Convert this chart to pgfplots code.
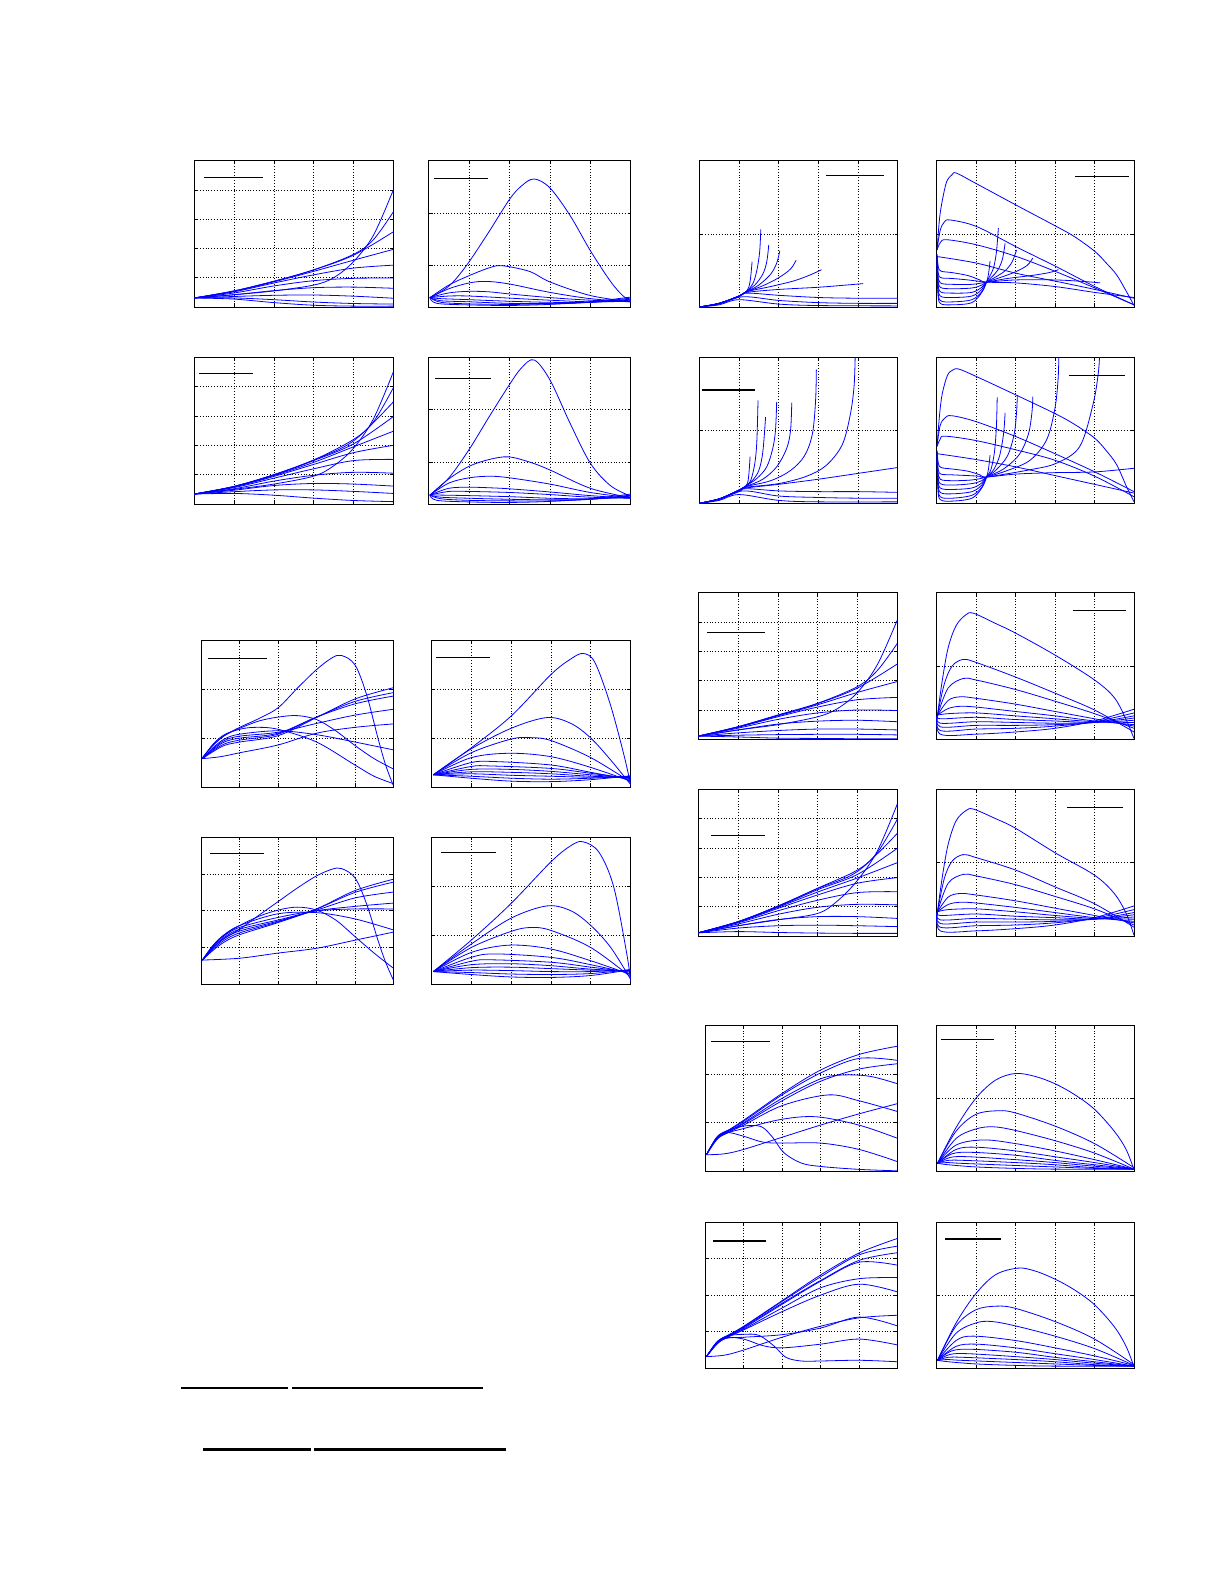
\documentclass[border=0pt]{standalone}
\usepackage{pgfplots}
\pgfplotsset{compat=1.18}
\tikzset{cv/.style={blue, line width=0.4pt, smooth, tension=0.55, mark=none}}
\newcommand\C[1]{\addplot[cv] coordinates {#1};}
\pgfplotsset{
 pan/.style={scale only axis, anchor=north west, xmin=0, xmax=5, xtick={1,2,3,4},
  xticklabels={}, yticklabels={}, grid=major,
  major grid style={black, line width=0.35pt, dash pattern=on 0.4pt off 1pt},
  axis line style={black, line width=0.5pt}, major tick length=1.5pt, minor tick length=1pt,
  tick style={black, line width=0.35pt}, tick align=inside},
 y5/.style={ymin=0, ymax=5, ytick={1,2,3,4}},
 y3/.style={ymin=0, ymax=3, ytick={1,2}},
 y4/.style={ymin=0, ymax=4, ytick={1,2,3}},
 y2/.style={ymin=0, ymax=2, ytick={1}, minor y tick num=4},
 yb/.style={ymin=0.2, ymax=3, ytick={1,2}},
}
\begin{document}
\begin{tikzpicture}
\path[use as bounding box] (0,0) rectangle (612.5pt,-792.5pt);

% ---------- A ----------
\begin{axis}[pan, y5, at={(97.15pt,-80.35pt)}, width=99.5pt, height=73.15pt]
\C{(0,0.31)(1,0.42)(2,0.55)(3,0.75)(3.5,1.0)(4,1.55)(4.5,2.45)(5,4.0)}
\C{(0,0.31)(1,0.55)(2,0.88)(3,1.27)(4,1.8)(4.5,2.3)(5,3.25)}
\C{(0,0.31)(1,0.55)(2,0.88)(3,1.27)(4,1.77)(5,2.57)}
\C{(0,0.31)(1,0.54)(2,0.86)(3,1.22)(4,1.6)(5,1.97)}
\C{(0,0.31)(1,0.52)(2,0.82)(3,1.1)(4,1.33)(5,1.43)}
\C{(0,0.31)(1,0.48)(2,0.72)(3,0.9)(4,0.98)(5,0.99)}
\C{(0,0.31)(1,0.42)(2,0.56)(3,0.66)(4,0.68)(5,0.64)}
\C{(0,0.31)(1,0.36)(2,0.4)(3,0.41)(4,0.37)(5,0.30)}
\C{(0,0.31)(1,0.31)(2,0.25)(3,0.17)(4,0.12)(5,0.10)}
\C{(0,0.31)(1,0.27)(2,0.15)(3,0.06)(4,0.03)(5,0.03)}
\end{axis}
% ---------- B ----------
\begin{axis}[pan, yb, at={(214.35pt,-80.35pt)}, width=101pt, height=73.15pt]
\C{(0.03,0.38)(0.5,0.6)(0.94,1.0)(1.5,1.65)(2,2.26)(2.3,2.52)(2.61,2.65)(3,2.48)(3.5,1.95)(4,1.28)(4.5,0.69)(4.8,0.42)(5,0.32)}
\C{(0.03,0.38)(0.5,0.62)(1,0.8)(1.5,0.95)(1.82,0.99)(2.5,0.88)(3,0.68)(4,0.42)(5,0.3)}
\C{(0.03,0.38)(0.5,0.55)(1,0.66)(1.42,0.69)(2,0.64)(3,0.48)(4,0.36)(5,0.3)}
\C{(0.03,0.38)(0.5,0.47)(1,0.5)(1.5,0.49)(2,0.45)(3,0.38)(4,0.33)(5,0.3)}
\C{(0.03,0.38)(0.5,0.41)(1,0.41)(2,0.37)(3,0.33)(4,0.3)(5,0.31)}
\C{(0.03,0.38)(0.3,0.36)(1,0.34)(2,0.31)(3,0.29)(4,0.29)(5,0.33)}
\C{(0.03,0.38)(0.3,0.32)(1,0.3)(2,0.27)(3,0.27)(4,0.29)(5,0.35)}
\C{(0.03,0.38)(0.3,0.29)(1,0.26)(2,0.25)(3,0.26)(4,0.29)(5,0.37)}
\C{(0.03,0.38)(0.2,0.27)(1,0.24)(2,0.23)(3,0.25)(4,0.3)(5,0.39)}
\end{axis}
% ---------- C ----------
\begin{axis}[pan, y5, at={(97.15pt,-178.65pt)}, width=99.5pt, height=73.35pt]
\C{(0,0.34)(1,0.5)(2,0.68)(3,0.95)(3.5,1.3)(4,1.9)(4.5,2.9)(5,4.5)}
\C{(0,0.34)(1,0.6)(2,1.0)(3,1.5)(4,2.2)(4.5,2.8)(5,3.96)}
\C{(0,0.34)(1,0.6)(2,1.0)(3,1.5)(4,2.15)(5,3.48)}
\C{(0,0.34)(1,0.6)(2,0.99)(3,1.48)(4,2.05)(5,2.98)}
\C{(0,0.34)(1,0.59)(2,0.97)(3,1.42)(4,1.95)(5,2.48)}
\C{(0,0.34)(1,0.58)(2,0.94)(3,1.35)(4,1.75)(5,2.0)}
\C{(0,0.34)(1,0.56)(2,0.88)(3,1.2)(4,1.48)(5,1.52)}
\C{(0,0.34)(1,0.52)(2,0.78)(3,0.98)(4,1.08)(5,1.05)}
\C{(0,0.34)(1,0.47)(2,0.63)(3,0.7)(4,0.68)(5,0.61)}
\C{(0,0.34)(1,0.42)(2,0.48)(3,0.48)(4,0.43)(5,0.36)}
\C{(0,0.34)(1,0.36)(2,0.3)(3,0.2)(4,0.12)(5,0.08)}
\end{axis}
% ---------- D ----------
\begin{axis}[pan, yb, at={(214.35pt,-178.65pt)}, width=101pt, height=73.35pt]
\C{(0.03,0.37)(0.5,0.7)(1,1.24)(1.5,1.87)(2,2.48)(2.3,2.8)(2.61,2.95)(3,2.57)(3.5,1.74)(4,0.98)(4.5,0.55)(5,0.35)}
\C{(0.03,0.37)(0.5,0.68)(1,0.92)(1.5,1.05)(1.97,1.1)(2.5,1.0)(3,0.85)(4,0.5)(5,0.32)}
\C{(0.03,0.37)(0.5,0.6)(1,0.7)(1.52,0.73)(2,0.7)(3,0.58)(4,0.42)(5,0.32)}
\C{(0.03,0.37)(0.5,0.5)(1,0.52)(1.5,0.51)(2,0.49)(3,0.43)(4,0.36)(5,0.31)}
\C{(0.03,0.37)(0.5,0.44)(1,0.44)(2,0.42)(3,0.38)(4,0.33)(5,0.31)}
\C{(0.03,0.37)(0.3,0.37)(1,0.36)(2,0.34)(3,0.31)(4,0.3)(5,0.33)}
\C{(0.03,0.37)(0.3,0.33)(1,0.31)(2,0.29)(3,0.28)(4,0.29)(5,0.35)}
\C{(0.03,0.37)(0.3,0.3)(1,0.27)(2,0.26)(3,0.26)(4,0.29)(5,0.37)}
\C{(0.03,0.37)(0.2,0.27)(1,0.24)(2,0.23)(3,0.25)(4,0.3)(5,0.39)}
\end{axis}
% ---------- E ----------
\begin{axis}[pan, y2, at={(349.65pt,-80.35pt)}, width=99.2pt, height=73.15pt]
\C{(0,0)(0.5,0.05)(1,0.15)(1.2,0.22)(1.28,0.35)(1.33,0.62)}
\C{(0,0)(0.5,0.05)(1,0.15)(1.2,0.22)(1.35,0.32)(1.45,0.5)(1.52,0.75)(1.55,1.06)}
\C{(0,0)(0.5,0.05)(1,0.15)(1.2,0.22)(1.4,0.3)(1.6,0.45)(1.7,0.62)(1.75,0.85)}
\C{(0,0)(0.5,0.05)(1,0.15)(1.2,0.21)(1.5,0.3)(1.8,0.45)(1.95,0.6)(2.03,0.77)}
\C{(0,0)(0.5,0.05)(1,0.15)(1.2,0.21)(1.6,0.29)(2,0.4)(2.3,0.52)(2.44,0.64)}
\C{(0,0)(0.5,0.05)(1,0.15)(1.2,0.21)(1.8,0.28)(2.4,0.36)(2.8,0.44)(3.08,0.51)}
\C{(0,0)(0.5,0.05)(1,0.15)(1.2,0.2)(2,0.24)(3,0.27)(3.7,0.3)(4.13,0.32)}
\C{(0,0)(0.5,0.05)(1,0.14)(1.2,0.19)(2,0.16)(3,0.13)(4,0.12)(5,0.12)}
\C{(0,0)(0.5,0.04)(1.1,0.14)(2,0.09)(3,0.06)(4,0.05)(5,0.05)}
\C{(0,0)(0.5,0.03)(1,0.1)(2,0.04)(3,0.02)(5,0.015)}
\end{axis}
% ---------- F ----------
\begin{axis}[pan, y2, at={(468.15pt,-80.35pt)}, width=98.85pt, height=73.15pt]
\C{(0.02,0.78)(0.08,1.2)(0.15,1.45)(0.26,1.71)(0.4,1.81)(0.51,1.83)(1,1.69)(2.03,1.39)(3.04,1.1)(3.5,0.96)(4.01,0.76)(4.3,0.6)(4.56,0.44)(4.81,0.21)(5,0.02)}
\C{(0.02,0.8)(0.1,1.05)(0.2,1.16)(0.35,1.19)(1.02,1.1)(2.03,0.82)(3.04,0.55)(4.01,0.28)(5,0.03)}
\C{(0.02,0.78)(0.1,0.88)(0.26,0.92)(1.02,0.85)(2.03,0.69)(3.04,0.48)(4.01,0.26)(5,0.03)}
\C{(0.02,0.69)(1.02,0.6)(2.03,0.46)(3.04,0.35)(4.01,0.24)(5,0.12)}
\C{(0.02,0.72)(0.05,0.55)(0.12,0.49)(0.4,0.47)(0.8,0.43)(1.1,0.37)(1.27,0.34)(2,0.33)(3,0.28)(4,0.2)(5,0.13)}
\C{(0.02,0.7)(0.05,0.46)(0.12,0.4)(0.4,0.39)(0.8,0.37)(1.1,0.35)(1.27,0.34)(2,0.37)(3,0.37)(3.7,0.35)(4.14,0.33)}
\C{(0.02,0.68)(0.04,0.45)(0.1,0.33)(0.4,0.31)(0.9,0.31)(1.27,0.34)(1.8,0.39)(2.4,0.43)(2.85,0.47)(3.09,0.51)}
\C{(0.02,0.66)(0.04,0.4)(0.1,0.27)(0.4,0.25)(0.9,0.26)(1.15,0.3)(1.27,0.34)(1.6,0.4)(2,0.48)(2.3,0.57)(2.44,0.67)}
\C{(0.02,0.64)(0.04,0.35)(0.1,0.21)(0.4,0.19)(0.9,0.2)(1.15,0.27)(1.27,0.34)(1.5,0.41)(1.75,0.5)(1.92,0.62)(2.03,0.78)}
\C{(0.02,0.62)(0.04,0.3)(0.1,0.15)(0.4,0.13)(0.9,0.15)(1.15,0.24)(1.27,0.34)(1.4,0.41)(1.55,0.5)(1.67,0.65)(1.74,0.87)}
\C{(0.02,0.6)(0.04,0.25)(0.1,0.09)(0.4,0.07)(0.9,0.1)(1.15,0.21)(1.27,0.34)(1.35,0.42)(1.45,0.54)(1.52,0.75)(1.57,1.08)}
\C{(0.02,0.58)(0.04,0.2)(0.1,0.05)(0.4,0.03)(0.9,0.06)(1.15,0.2)(1.27,0.34)(1.32,0.45)(1.36,0.63)}
\end{axis}
% ---------- E2 ----------
\begin{axis}[pan, y2, at={(349.65pt,-178.65pt)}, width=99.2pt, height=73pt]
\C{(0,0)(0.5,0.06)(1,0.18)(1.18,0.24)(1.24,0.35)(1.28,0.64)}
\C{(0,0)(0.5,0.06)(1,0.18)(1.18,0.24)(1.3,0.32)(1.4,0.55)(1.45,0.85)(1.48,1.41)}
\C{(0,0)(0.5,0.06)(1,0.18)(1.18,0.24)(1.35,0.32)(1.5,0.45)(1.6,0.7)(1.67,1.18)}
\C{(0,0)(0.5,0.06)(1,0.18)(1.18,0.24)(1.45,0.34)(1.7,0.5)(1.85,0.75)(1.92,1.0)(1.95,1.39)}
\C{(0,0)(0.5,0.06)(1,0.18)(1.18,0.23)(1.6,0.33)(1.95,0.5)(2.2,0.75)(2.3,1.0)(2.33,1.38)}
\C{(0,0)(0.5,0.06)(1,0.18)(1.18,0.23)(1.8,0.31)(2.3,0.45)(2.65,0.65)(2.85,0.95)(2.93,1.4)(2.95,1.83)}
\C{(0,0)(0.5,0.06)(1,0.18)(1.18,0.22)(2,0.27)(2.7,0.37)(3.2,0.52)(3.6,0.8)(3.8,1.2)(3.9,1.6)(3.93,2.05)}
\C{(0,0)(0.5,0.06)(1,0.17)(1.18,0.21)(2,0.26)(3,0.33)(4,0.41)(5,0.49)}
\C{(0,0)(0.5,0.06)(1,0.16)(1.18,0.2)(2,0.17)(3,0.16)(4,0.16)(5,0.15)}
\C{(0,0)(0.5,0.05)(1.1,0.17)(2,0.1)(3,0.08)(4,0.07)(5,0.07)}
\C{(0,0)(0.5,0.04)(1,0.12)(2,0.04)(3,0.02)(5,0.02)}
\end{axis}
% ---------- F2 ----------
\begin{axis}[pan, y2, at={(468.15pt,-178.65pt)}, width=98.85pt, height=73pt]
\C{(0.02,0.78)(0.08,1.2)(0.15,1.5)(0.28,1.75)(0.4,1.82)(0.56,1.84)(1,1.74)(2.03,1.48)(3.0,1.23)(3.5,1.08)(4.01,0.89)(4.3,0.72)(4.56,0.53)(4.81,0.23)(5,0.02)}
\C{(0.02,0.8)(0.1,1.07)(0.22,1.17)(0.39,1.2)(1,1.12)(2.03,0.91)(3,0.68)(4.01,0.43)(5,0.16)}
\C{(0.02,0.78)(0.1,0.88)(0.22,0.92)(1,0.86)(2.03,0.73)(3,0.59)(4.01,0.37)(5,0.09)}
\C{(0.02,0.68)(1,0.6)(2,0.5)(3,0.38)(4,0.26)(5,0.14)}
\C{(0.02,0.72)(0.05,0.55)(0.12,0.49)(0.4,0.47)(0.8,0.44)(1.1,0.39)(1.27,0.36)(2,0.4)(3,0.42)(4,0.43)(5,0.48)}
\C{(0.02,0.7)(0.05,0.46)(0.12,0.4)(0.4,0.39)(0.8,0.38)(1.1,0.37)(1.27,0.36)(2.37,0.46)(3.04,0.55)(3.63,0.78)(3.97,1.37)(4.1,1.8)(4.13,2.05)}
\C{(0.02,0.68)(0.04,0.45)(0.1,0.33)(0.4,0.31)(0.9,0.32)(1.27,0.36)(1.8,0.45)(2.37,0.59)(2.79,0.87)(3.0,1.3)(3.08,1.7)(3.1,2.05)}
\C{(0.02,0.66)(0.04,0.4)(0.1,0.27)(0.4,0.25)(0.9,0.27)(1.15,0.31)(1.27,0.36)(1.7,0.47)(2.1,0.67)(2.33,0.95)(2.42,1.25)(2.44,1.46)}
\C{(0.02,0.64)(0.04,0.35)(0.1,0.21)(0.4,0.19)(0.9,0.21)(1.15,0.28)(1.27,0.36)(1.5,0.45)(1.8,0.65)(1.97,0.95)(2.03,1.25)(2.05,1.48)}
\C{(0.02,0.62)(0.04,0.3)(0.1,0.15)(0.4,0.13)(0.9,0.16)(1.15,0.25)(1.27,0.36)(1.45,0.46)(1.6,0.65)(1.7,0.95)(1.74,1.24)}
\C{(0.02,0.6)(0.04,0.25)(0.1,0.09)(0.4,0.07)(0.9,0.11)(1.15,0.22)(1.27,0.36)(1.38,0.46)(1.47,0.7)(1.52,1.05)(1.54,1.45)}
\C{(0.02,0.58)(0.04,0.2)(0.1,0.05)(0.4,0.03)(0.9,0.07)(1.15,0.21)(1.27,0.36)(1.32,0.47)(1.36,0.66)}
\end{axis}
% ---------- G ----------
\begin{axis}[pan, y3, at={(100.65pt,-320.15pt)}, width=96pt, height=73.35pt]
\C{(0.03,0.6)(0.3,0.85)(0.6,1.05)(1,1.22)(1.5,1.4)(2,1.62)(2.5,2.02)(3,2.4)(3.4,2.64)(3.65,2.69)(4,2.5)(4.3,1.9)(4.6,1.0)(4.8,0.45)(5,0.03)}
\C{(0.03,0.59)(0.3,0.85)(0.6,1.05)(1,1.2)(1.5,1.35)(2,1.43)(2.5,1.46)(3,1.38)(3.5,1.15)(4,0.85)(4.5,0.58)(5,0.37)}
\C{(0.03,0.59)(0.3,0.87)(0.6,1.07)(1,1.18)(1.4,1.22)(2,1.18)(3,0.92)(4,0.45)(4.5,0.22)(5,0.07)}
\C{(0.03,0.58)(0.3,0.8)(0.6,0.98)(1,1.08)(2,1.15)(3,1.07)(4,0.92)(5,0.76)}
\C{(0.03,0.58)(0.3,0.78)(0.6,0.95)(1,1.04)(2,1.12)(3,1.3)(4,1.47)(5,1.59)}
\C{(0.03,0.58)(0.3,0.76)(0.6,0.92)(1,1.0)(2,1.1)(3,1.43)(4,1.7)(5,1.86)}
\C{(0.03,0.58)(0.3,0.74)(0.6,0.88)(1,0.96)(2,1.08)(3,1.43)(4,1.75)(5,1.93)}
\C{(0.03,0.58)(0.3,0.72)(0.6,0.85)(1,0.92)(2,1.05)(3,1.42)(4,1.8)(5,2.03)}
\C{(0.03,0.58)(0.5,0.62)(1,0.7)(2,0.86)(3,1.1)(4,1.22)(5,1.29)}
\end{axis}
% ---------- H ----------
\begin{axis}[pan, y3, at={(215.65pt,-320.15pt)}, width=99.7pt, height=73.35pt]
\C{(0.05,0.25)(1,0.8)(2,1.45)(3,2.3)(3.5,2.62)(3.81,2.73)(4.1,2.55)(4.48,1.71)(4.82,0.69)(5,0.04)}
\C{(0.05,0.25)(1,0.78)(2,1.2)(2.9,1.42)(3.5,1.3)(4,1.0)(4.5,0.55)(5,0.05)}
\C{(0.05,0.25)(1,0.7)(2,0.98)(2.48,1.01)(3,0.95)(4,0.6)(5,0.1)}
\C{(0.05,0.25)(1,0.6)(1.97,0.69)(3,0.62)(4,0.4)(5,0.12)}
\C{(0.05,0.25)(1,0.5)(1.6,0.52)(3,0.45)(4,0.3)(5,0.15)}
\C{(0.05,0.25)(1,0.42)(1.5,0.43)(3,0.38)(4,0.28)(5,0.17)}
\C{(0.05,0.25)(1,0.36)(2,0.36)(3,0.32)(4,0.25)(5,0.19)}
\C{(0.05,0.25)(1,0.31)(2,0.3)(3,0.27)(4,0.22)(5,0.2)}
\C{(0.05,0.25)(1,0.27)(2,0.24)(3,0.22)(4,0.2)(5,0.21)}
\C{(0.05,0.25)(1,0.22)(2,0.18)(3,0.16)(4,0.18)(5,0.22)}
\C{(0.05,0.25)(1,0.18)(2,0.12)(3,0.11)(4,0.15)(5,0.23)}
\end{axis}
% ---------- G2 ----------
\begin{axis}[pan, y4, at={(100.65pt,-418.65pt)}, width=96pt, height=73.5pt]
\C{(0.03,0.66)(0.3,1.0)(0.6,1.25)(1,1.5)(1.5,1.88)(2,2.25)(2.5,2.62)(3,2.95)(3.4,3.13)(3.65,3.15)(4,2.9)(4.3,2.2)(4.6,1.2)(4.8,0.6)(5,0.12)}
\C{(0.03,0.66)(0.3,1.05)(0.6,1.35)(1,1.6)(1.5,1.85)(2,2.02)(2.5,2.1)(3,2.02)(3.5,1.75)(4,1.3)(4.5,0.85)(5,0.44)}
\C{(0.03,0.66)(0.3,1.05)(0.6,1.35)(1,1.6)(2,1.92)(3,1.95)(4,1.78)(5,1.48)}
\C{(0.03,0.66)(0.3,1.03)(0.6,1.32)(1,1.55)(2,1.82)(3,2.0)(4,2.05)(5,2.05)}
\C{(0.03,0.66)(0.3,1.0)(0.6,1.28)(1,1.5)(2,1.75)(3,2.0)(4,2.12)(5,2.21)}
\C{(0.03,0.66)(0.3,0.98)(0.6,1.25)(1,1.45)(2,1.72)(3,2.02)(4,2.35)(5,2.51)}
\C{(0.03,0.66)(0.3,0.95)(0.6,1.2)(1,1.4)(2,1.7)(3,2.05)(4,2.5)(5,2.78)}
\C{(0.03,0.66)(0.3,0.92)(0.6,1.15)(1,1.35)(2,1.68)(3,2.05)(4,2.55)(5,2.86)}
\C{(0.03,0.66)(1,0.71)(2,0.85)(3,0.98)(4,1.2)(5,1.42)}
\end{axis}
% ---------- H2 ----------
\begin{axis}[pan, y3, at={(215.65pt,-418.65pt)}, width=99.7pt, height=73.5pt]
\C{(0.05,0.26)(1,0.9)(2,1.65)(3,2.5)(3.5,2.83)(3.8,2.91)(4.2,2.7)(4.57,2.0)(4.9,0.63)(5,0.05)}
\C{(0.05,0.26)(1,0.82)(2,1.35)(2.9,1.6)(3.5,1.5)(4,1.2)(4.5,0.75)(5,0.1)}
\C{(0.05,0.26)(1,0.75)(2,1.08)(2.5,1.16)(3,1.1)(4,0.75)(5,0.15)}
\C{(0.05,0.26)(1,0.65)(1.97,0.8)(3,0.72)(4,0.48)(5,0.2)}
\C{(0.05,0.26)(1,0.55)(1.6,0.62)(3,0.55)(4,0.4)(5,0.22)}
\C{(0.05,0.26)(1,0.47)(1.5,0.5)(3,0.45)(4,0.35)(5,0.25)}
\C{(0.05,0.26)(1,0.4)(2,0.42)(3,0.38)(4,0.31)(5,0.27)}
\C{(0.05,0.26)(1,0.34)(2,0.35)(3,0.32)(4,0.29)(5,0.28)}
\C{(0.05,0.26)(1,0.29)(2,0.28)(3,0.26)(4,0.26)(5,0.29)}
\C{(0.05,0.26)(1,0.24)(2,0.21)(3,0.2)(4,0.22)(5,0.3)}
\C{(0.05,0.26)(1,0.2)(2,0.15)(3,0.14)(4,0.18)(5,0.3)}
\end{axis}
% ---------- I ----------
\begin{axis}[pan, y5, at={(349.15pt,-296.35pt)}, width=99.5pt, height=73.3pt]
\C{(0,0.11)(1,0.32)(2,0.5)(3,0.77)(3.5,1.05)(4,1.6)(4.5,2.55)(5,4.07)}
\C{(0,0.11)(1,0.43)(2,0.83)(3,1.23)(4,1.8)(4.5,2.35)(5,3.27)}
\C{(0,0.11)(1,0.43)(2,0.82)(3,1.22)(4,1.75)(5,2.57)}
\C{(0,0.11)(1,0.42)(2,0.8)(3,1.18)(4,1.6)(5,1.97)}
\C{(0,0.11)(1,0.41)(2,0.77)(3,1.1)(4,1.35)(5,1.43)}
\C{(0,0.11)(1,0.38)(2,0.68)(3,0.9)(4,1.0)(5,0.98)}
\C{(0,0.11)(1,0.32)(2,0.52)(3,0.62)(4,0.65)(5,0.6)}
\C{(0,0.11)(1,0.22)(2,0.3)(3,0.35)(4,0.35)(5,0.32)}
\C{(0,0.11)(1,0.14)(2,0.16)(3,0.17)(4,0.17)(5,0.15)}
\C{(0,0.11)(1,0.08)(2,0.04)(3,0.03)(4,0.02)(5,0.02)}
\end{axis}
% ---------- J ----------
\begin{axis}[pan, y2, at={(468.15pt,-296.35pt)}, width=98.85pt, height=73.3pt]
\C{(0.03,0.33)(0.15,0.8)(0.3,1.25)(0.5,1.55)(0.75,1.7)(0.94,1.72)(1.5,1.58)(2,1.45)(3,1.15)(4,0.81)(4.5,0.57)(4.8,0.27)(5,0.01)}
\C{(0.03,0.33)(0.2,0.75)(0.4,1.0)(0.68,1.09)(1,1.05)(2,0.85)(3,0.63)(4,0.4)(5,0.1)}
\C{(0.03,0.33)(0.3,0.7)(0.68,0.83)(1,0.81)(2,0.68)(3,0.52)(4,0.35)(5,0.15)}
\C{(0.03,0.33)(0.3,0.53)(0.6,0.58)(1,0.56)(2,0.48)(3,0.38)(4,0.28)(5,0.18)}
\C{(0.03,0.33)(0.3,0.42)(0.6,0.45)(1,0.44)(2,0.38)(3,0.32)(4,0.25)(5,0.2)}
\C{(0.03,0.33)(0.3,0.35)(1,0.36)(2,0.32)(3,0.28)(4,0.24)(5,0.23)}
\C{(0.03,0.33)(0.1,0.28)(1,0.3)(2,0.27)(3,0.25)(4,0.23)(5,0.26)}
\C{(0.03,0.33)(0.1,0.22)(1,0.24)(2,0.23)(3,0.22)(4,0.23)(5,0.29)}
\C{(0.03,0.33)(0.1,0.17)(1,0.19)(2,0.19)(3,0.2)(4,0.23)(5,0.32)}
\C{(0.03,0.33)(0.1,0.12)(1,0.14)(2,0.15)(3,0.18)(4,0.24)(5,0.36)}
\C{(0.03,0.33)(0.1,0.07)(1,0.07)(2,0.1)(3,0.15)(4,0.25)(5,0.41)}
\end{axis}
% ---------- I2 ----------
\begin{axis}[pan, y5, at={(349.15pt,-394.65pt)}, width=99.5pt, height=73.35pt]
\C{(0,0.11)(1,0.35)(2,0.55)(3,0.77)(3.5,1.2)(4,1.9)(4.5,2.9)(5,4.5)}
\C{(0,0.11)(1,0.49)(2,1.02)(3,1.63)(4,2.25)(4.5,2.85)(5,3.98)}
\C{(0,0.11)(1,0.49)(2,1.02)(3,1.62)(4,2.2)(5,3.5)}
\C{(0,0.11)(1,0.49)(2,1.0)(3,1.58)(4,2.1)(5,2.99)}
\C{(0,0.11)(1,0.48)(2,0.98)(3,1.5)(4,1.98)(5,2.5)}
\C{(0,0.11)(1,0.47)(2,0.94)(3,1.4)(4,1.8)(5,1.99)}
\C{(0,0.11)(1,0.45)(2,0.86)(3,1.22)(4,1.48)(5,1.51)}
\C{(0,0.11)(1,0.41)(2,0.74)(3,0.98)(4,1.08)(5,1.06)}
\C{(0,0.11)(1,0.35)(2,0.56)(3,0.66)(4,0.66)(5,0.6)}
\C{(0,0.11)(1,0.27)(2,0.35)(3,0.37)(4,0.35)(5,0.32)}
\C{(0,0.11)(1,0.15)(2,0.12)(3,0.1)(4,0.09)(5,0.09)}
\end{axis}
% ---------- J2 ----------
\begin{axis}[pan, y2, at={(468.15pt,-394.65pt)}, width=98.85pt, height=73.35pt]
\C{(0.03,0.33)(0.15,0.8)(0.3,1.25)(0.5,1.57)(0.75,1.71)(0.94,1.73)(1.5,1.6)(2,1.47)(3.02,1.13)(4,0.83)(4.5,0.58)(4.8,0.31)(5,0.01)}
\C{(0.03,0.33)(0.2,0.78)(0.4,1.02)(0.68,1.11)(1,1.07)(2,0.9)(3,0.67)(4,0.44)(5,0.12)}
\C{(0.03,0.33)(0.3,0.72)(0.68,0.84)(1,0.82)(2,0.7)(3,0.54)(4,0.37)(5,0.15)}
\C{(0.03,0.33)(0.3,0.53)(0.6,0.58)(1,0.56)(2,0.48)(3,0.38)(4,0.28)(5,0.18)}
\C{(0.03,0.33)(0.3,0.43)(0.6,0.46)(1,0.45)(2,0.39)(3,0.32)(4,0.25)(5,0.2)}
\C{(0.03,0.33)(0.3,0.36)(1,0.37)(2,0.33)(3,0.28)(4,0.24)(5,0.23)}
\C{(0.03,0.33)(0.1,0.28)(1,0.3)(2,0.27)(3,0.25)(4,0.23)(5,0.26)}
\C{(0.03,0.33)(0.1,0.22)(1,0.24)(2,0.23)(3,0.22)(4,0.23)(5,0.29)}
\C{(0.03,0.33)(0.1,0.17)(1,0.19)(2,0.19)(3,0.2)(4,0.23)(5,0.32)}
\C{(0.03,0.33)(0.1,0.12)(1,0.14)(2,0.15)(3,0.18)(4,0.24)(5,0.36)}
\C{(0.03,0.33)(0.1,0.07)(1,0.07)(2,0.1)(3,0.15)(4,0.25)(5,0.41)}
\end{axis}
% ---------- K ----------
\begin{axis}[pan, y3, at={(352.65pt,-512.65pt)}, width=96pt, height=73pt]
\C{(0.03,0.34)(0.3,0.7)(0.55,0.82)(1,1.05)(2,1.6)(3,2.08)(4,2.4)(5,2.57)}
\C{(0.03,0.34)(0.3,0.7)(0.55,0.82)(1,1.03)(2,1.57)(3,2.02)(4,2.32)(5,2.28)}
\C{(0.03,0.34)(0.3,0.68)(0.55,0.8)(1,0.98)(2,1.45)(3,1.85)(4,2.1)(5,2.21)}
\C{(0.03,0.34)(0.3,0.68)(0.55,0.8)(1,1.0)(2,1.5)(3,1.9)(3.6,1.98)(4.3,1.95)(5,1.8)}
\C{(0.03,0.34)(0.3,0.66)(0.55,0.78)(1,0.95)(2,1.35)(3.2,1.57)(4,1.45)(5,1.23)}
\C{(0.03,0.34)(0.5,0.36)(1,0.45)(2,0.7)(3,0.95)(4,1.18)(5,1.39)}
\C{(0.03,0.34)(0.3,0.65)(0.55,0.78)(1,0.88)(2,1.07)(2.9,1.12)(4,0.95)(5,0.68)}
\C{(0.03,0.34)(0.3,0.68)(0.55,0.8)(1,0.72)(1.5,0.6)(2,0.58)(3,0.58)(4,0.45)(5,0.2)}
\C{(0.03,0.34)(0.3,0.7)(0.55,0.83)(1,0.93)(1.45,0.92)(1.75,0.7)(2.05,0.38)(2.5,0.17)(3,0.1)(4,0.04)(5,0.01)}
\end{axis}
% ---------- L ----------
\begin{axis}[pan, y2, at={(468.15pt,-512.65pt)}, width=98.85pt, height=73pt]
\C{(0.03,0.11)(0.5,0.6)(1,1.0)(1.5,1.25)(2,1.34)(2.5,1.3)(3,1.2)(3.5,1.05)(4,0.85)(4.5,0.55)(4.8,0.3)(5,0.02)}
\C{(0.03,0.11)(0.5,0.55)(1,0.78)(1.57,0.83)(2,0.8)(3,0.62)(4,0.38)(5,0.05)}
\C{(0.03,0.11)(0.5,0.45)(1,0.58)(1.44,0.61)(2,0.56)(3,0.42)(4,0.25)(5,0.03)}
\C{(0.03,0.11)(0.5,0.36)(1.19,0.43)(2,0.38)(3,0.28)(4,0.16)(5,0.03)}
\C{(0.03,0.11)(0.5,0.3)(1.02,0.33)(2,0.28)(3,0.2)(4,0.12)(5,0.03)}
\C{(0.03,0.11)(0.4,0.24)(0.9,0.26)(2,0.22)(3,0.15)(4,0.09)(5,0.03)}
\C{(0.03,0.11)(0.35,0.19)(0.8,0.2)(2,0.16)(3,0.12)(4,0.07)(5,0.03)}
\C{(0.03,0.11)(0.3,0.15)(0.7,0.15)(2,0.12)(3,0.09)(4,0.05)(5,0.03)}
\C{(0.03,0.11)(0.3,0.12)(0.6,0.11)(2,0.08)(3,0.06)(4,0.04)(5,0.03)}
\C{(0.03,0.11)(0.3,0.09)(1,0.06)(2,0.04)(3,0.03)(5,0.03)}
\end{axis}
% ---------- K2 ----------
\begin{axis}[pan, y4, at={(352.65pt,-611pt)}, width=96pt, height=73.15pt]
\C{(0.03,0.32)(0.3,0.72)(0.55,0.88)(1,1.15)(2,1.85)(3,2.55)(4,3.15)(5,3.55)}
\C{(0.03,0.32)(0.3,0.72)(0.55,0.88)(1,1.14)(2,1.83)(3,2.5)(4,3.1)(5,3.34)}
\C{(0.03,0.32)(0.3,0.7)(0.55,0.86)(1,1.12)(2,1.78)(3,2.4)(4,2.95)(5,3.16)}
\C{(0.03,0.32)(0.3,0.7)(0.55,0.86)(1,1.1)(2,1.75)(3,2.38)(4,2.9)(5,2.82)}
\C{(0.03,0.32)(0.3,0.68)(0.55,0.84)(1,1.07)(2,1.65)(3,2.2)(4,2.45)(5,2.48)}
\C{(0.03,0.32)(0.3,0.68)(0.55,0.84)(1,1.05)(2,1.55)(3,2.0)(4,2.3)(5,2.09)}
\C{(0.03,0.32)(0.5,0.36)(1,0.5)(2,0.85)(3,1.15)(4,1.38)(5,1.45)}
\C{(0.03,0.32)(0.3,0.66)(0.55,0.82)(1,0.85)(2,0.92)(3,1.1)(4,1.4)(5,1.16)}
\C{(0.03,0.32)(0.3,0.66)(0.55,0.84)(1,0.8)(1.5,0.62)(2,0.56)(3,0.66)(4,0.8)(5,0.64)}
\C{(0.03,0.32)(0.3,0.7)(0.55,0.88)(1,0.93)(1.4,0.9)(1.8,0.6)(2.1,0.3)(2.5,0.2)(3,0.2)(4,0.22)(5,0.18)}
\end{axis}
% ---------- L2 ----------
\begin{axis}[pan, y2, at={(468.15pt,-611pt)}, width=98.85pt, height=73.15pt]
\C{(0.03,0.11)(0.5,0.62)(1,1.02)(1.5,1.28)(2.07,1.37)(2.5,1.33)(3,1.22)(3.5,1.07)(4,0.87)(4.5,0.57)(4.8,0.3)(5,0.02)}
\C{(0.03,0.11)(0.5,0.58)(1,0.8)(1.53,0.85)(2,0.82)(3,0.64)(4,0.4)(5,0.05)}
\C{(0.03,0.11)(0.5,0.48)(1,0.62)(1.4,0.64)(2,0.58)(3,0.44)(4,0.27)(5,0.04)}
\C{(0.03,0.11)(0.5,0.38)(0.94,0.44)(2,0.38)(3,0.28)(4,0.17)(5,0.04)}
\C{(0.03,0.11)(0.5,0.3)(1.02,0.33)(2,0.28)(3,0.2)(4,0.12)(5,0.03)}
\C{(0.03,0.11)(0.4,0.24)(0.9,0.26)(2,0.22)(3,0.15)(4,0.09)(5,0.03)}
\C{(0.03,0.11)(0.35,0.19)(0.8,0.2)(2,0.16)(3,0.12)(4,0.07)(5,0.03)}
\C{(0.03,0.11)(0.3,0.15)(0.7,0.15)(2,0.12)(3,0.09)(4,0.05)(5,0.03)}
\C{(0.03,0.11)(0.3,0.12)(0.6,0.11)(2,0.08)(3,0.06)(4,0.04)(5,0.03)}
\C{(0.03,0.11)(0.3,0.09)(1,0.06)(2,0.04)(3,0.03)(5,0.03)}
\end{axis}

% ---------- legend rules ----------
\begin{scope}[line width=0.6pt]
\draw (102.15pt,-88.65pt) -- (131.35pt,-88.65pt);
\draw (217pt,-89.15pt) -- (243.85pt,-89.15pt);
\draw (99.5pt,-186.65pt) -- (126.35pt,-186.65pt);
\draw (217.5pt,-189.15pt) -- (245.35pt,-189.15pt);
\draw (413pt,-87.65pt) -- (441.85pt,-87.65pt);
\draw (537.5pt,-88.15pt) -- (564.35pt,-88.15pt);
\draw (350.85pt,-195pt) -- (377.35pt,-195pt);
\draw (534.5pt,-187.65pt) -- (562.35pt,-187.65pt);
\draw (104pt,-329.15pt) -- (133.5pt,-329.15pt);
\draw (217.85pt,-328.65pt) -- (244.85pt,-328.65pt);
\draw (105pt,-426.65pt) -- (131.85pt,-426.65pt);
\draw (220.5pt,-426.15pt) -- (247.85pt,-426.15pt);
\draw (353.5pt,-316.15pt) -- (382.5pt,-316.15pt);
\draw (536.65pt,-305.15pt) -- (562.85pt,-305.15pt);
\draw (355.5pt,-417.65pt) -- (382.5pt,-417.65pt);
\draw (533.5pt,-403.65pt) -- (561.35pt,-403.65pt);
\draw (355.5pt,-520.65pt) -- (385pt,-520.65pt);
\draw (470.5pt,-519.65pt) -- (497pt,-519.65pt);
\draw (356.5pt,-620.5pt) -- (383pt,-620.5pt);
\draw (472.5pt,-619.5pt) -- (500.35pt,-619.5pt);
\end{scope}
\begin{scope}[line width=1.2pt]
\draw (90.5pt,-693.85pt) -- (143.85pt,-693.85pt);
\draw (146pt,-693.85pt) -- (241.35pt,-693.85pt);
\draw (101.65pt,-724.65pt) -- (155.35pt,-724.65pt);
\draw (157pt,-724.65pt) -- (252.85pt,-724.65pt);
\end{scope}
\end{tikzpicture}
\end{document}
